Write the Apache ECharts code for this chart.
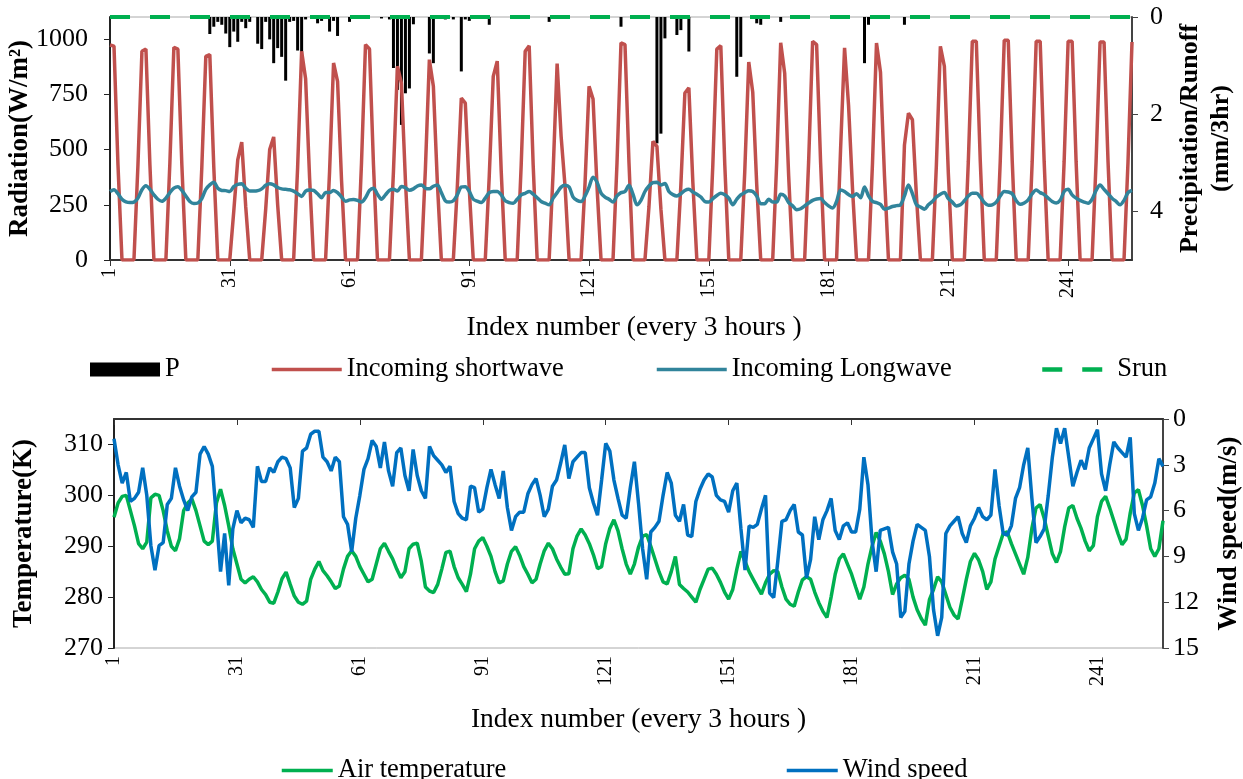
<!DOCTYPE html>
<html>
<head>
<meta charset="utf-8">
<script src="https://cdn.jsdelivr.net/npm/echarts@6/dist/echarts.min.js"></script>
<style>
html,body{margin:0;padding:0;background:#fff;}
#chart{width:1243px;height:779px;}
</style>
</head>
<body>
<div id="chart"></div>
<script>
// ---------- DATA ----------
const indexCount = 257;
const radiationTicks = [0, 250, 500, 750, 1000];
const precipTicks = [0, 2, 4];
const tempTicks = [270, 280, 290, 300, 310];
const windTicks = [0, 3, 6, 9, 12, 15];

const shortwave = [
973,968,430,0,0,0,0,430, 945,955,430,0,0,0,0,440, 963,955,430,0,0,0,0,420, 922,930,420,0,0,0,0,220,
453,534,240,0,0,0,0,230, 500,557,250,0,0,0,0,420, 945,820,370,0,0,0,0,400, 892,809,360,0,0,0,0,440,
975,955,430,0,0,0,0,400, 877,800,360,0,0,0,0,410, 907,786,350,0,0,0,0,330, 733,710,320,0,0,0,0,380,
831,900,400,0,0,0,0,430, 945,970,430,0,0,0,0,400, 889,560,330,0,0,0,0,350, 786,729,330,0,0,0,0,440,
983,975,440,0,0,0,0,240, 537,514,230,0,0,0,0,340, 756,779,350,0,0,0,0,430, 955,970,430,0,0,0,0,400,
896,760,340,0,0,0,0,440, 983,846,380,0,0,0,0,445, 990,975,440,0,0,0,0,500, 960,700,320,0,0,0,0,440,
982,850,380,0,0,0,0,520, 665,635,290,0,0,0,0,430, 967,877,390,0,0,0,0,445, 990,990,445,0,0,0,0,448,
995,995,448,0,0,0,0,445, 990,990,445,0,0,0,0,445, 990,990,445,0,0,0,0,444, 987,987,444,0,0,0,0,444,
987];

const longwave = [
310,318,300,275,263,260,262,280,318,336,320,295,275,266,280,305,325,332,315,290,
265,256,258,278,320,340,352,325,315,314,310,332,342,345,325,312,312,314,322,338,
345,340,328,322,320,318,312,300,288,312,317,315,300,282,305,305,315,305,285,266,
272,274,270,262,282,315,325,298,275,295,315,320,312,333,327,316,322,335,340,325,
322,334,340,305,268,262,268,295,330,332,310,275,266,260,280,305,310,310,295,268,
260,257,275,295,302,310,298,282,265,257,250,280,305,330,338,330,285,270,265,290,
330,375,352,303,285,275,262,290,305,310,338,298,250,270,310,335,350,352,340,346,
310,296,290,300,315,320,308,298,285,265,262,278,292,302,295,280,250,275,295,305,
313,310,290,255,255,275,262,262,298,290,260,245,228,232,245,258,270,276,278,260,
245,235,265,317,310,296,288,300,282,330,290,265,260,252,230,235,242,246,250,290,
340,300,250,240,230,250,265,285,298,305,278,262,245,250,268,290,302,302,285,260,
248,250,262,290,310,308,300,268,252,258,272,300,317,305,296,280,265,258,270,310,
320,295,280,270,262,257,275,315,340,320,300,280,265,250,270,305,315];

const precipitation = [
0,0,0,0,0,0,0,0,0,0, 0,0,0,0,0,0,0,0,0,0, 0,0,0,0,0,0.35,0.2,0.1,0.16,0.34,
0.62,0.3,0.51,0.1,0.23,0.1,0,0.55,0.66,0.1, 0.46,0.95,0.64,0.82,1.31,0.1,0.08,0.69,0.88,0.05,
0,0,0.13,0.08,0,0.3,0.08,0.39,0,0, 0.1,0,0,0,0,0,0,0,0.03,0,
0.05,1.05,1.5,2.22,1.57,1.47,0.15,0,0,0, 0.75,0.95,0,0,0.05,0,0.05,0,1.12,0.05,
0.08,0,0,0,0,0.16,0,0,0,0, 0,0,0,0,0,0,0,0,0,0,
0.1,0,0,0,0,0,0,0,0,0, 0,0,0,0,0,0,0,0,0.2,0,
0,0,0,0,0,0,0,2.6,2.4,0.44, 0,0,0.37,0.27,0,0.71,0,0,0,0,
0,0,0,0,0,0,0,1.23,0.82,0, 0,0,0.13,0.16,0,0,0,0,0.1,0,
0,0,0,0,0,0,0,0,0,0, 0,0,0,0,0,0,0,0,0,0.95,
0.16,0,0,0,0,0,0,0,0,0.16, 0,0,0,0,0,0,0,0,0,0,
0,0,0,0,0,0,0,0,0,0, 0,0,0,0,0,0,0,0,0,0,
0,0,0,0,0,0,0,0,0,0, 0,0,0,0,0,0,0,0,0,0,
0,0,0,0,0,0,0];

const srun = [
0,0,0,0,0,0,0,0,0,0,0,0,0,0,0,0,0,0,0,0,0,0,0,0,0,0,0,0,0,0,0,0,0,0,0,0,0,0,0,0,
0,0,0,0,0,0,0,0,0,0,0,0,0,0,0,0,0,0,0,0,0,0,0,0,0,0,0,0,0,0,0,0,0,0,0,0,0,0,0,0,
0,0,0,0,0,0,0,0,0,0,0,0,0,0,0,0,0,0,0,0,0,0,0,0,0,0,0,0,0,0,0,0,0,0,0,0,0,0,0,0,
0,0,0,0,0,0,0,0,0,0,0,0,0,0,0,0,0,0,0,0,0,0,0,0,0,0,0,0,0,0,0,0,0,0,0,0,0,0,0,0,
0,0,0,0,0,0,0,0,0,0,0,0,0,0,0,0,0,0,0,0,0,0,0,0,0,0,0,0,0,0,0,0,0,0,0,0,0,0,0,0,
0,0,0,0,0,0,0,0,0,0,0,0,0,0,0,0,0,0,0,0,0,0,0,0,0,0,0,0,0,0,0,0,0,0,0,0,0,0,0,0,
0,0,0,0,0,0,0,0,0,0,0,0,0,0,0,0,0];

const airTemperature = [
295.7,298.5,299.8,300.0,297,294,290.5,289.5,290.8,299.5,300.2,300.0,297,293,290,289.1,291.5,297,298.5,299.3,
297,294,291,290.3,291,298.5,301.2,298,294,289.5,286.5,283.5,282.8,283.5,284,283,281.5,280.5,279,278.8,
281,283.6,284.9,282.5,280.2,279,278.6,279.2,283.5,285.5,287,285.2,284.2,283,281.7,282.2,285.5,288,289.1,288,
286,284.5,283,283.5,286.5,289.5,290.6,289,287.5,285.5,283.8,285,289.5,290.4,290.6,287,282,281.2,280.9,282.5,
285.5,288.8,289,286,283.8,282.5,281.1,284.5,289.5,291,291.7,290,288,285,282.8,283.2,286.5,289,289.9,288.2,
286,284.5,282.8,283.5,286.5,289.1,290.6,289.5,287.5,285.9,284.5,284.6,289.5,292,293.4,292.2,290.5,288.3,285.6,286,
290.5,293.5,295.2,293,289.5,286.5,284.5,286.5,289.8,292,292.3,290,287.5,285,283,282.6,285,288,282.5,281.7,
281,280,279,281.5,283.5,285.5,285.7,284.5,282.9,281,279.6,281.5,285.5,289,287,285,283.5,282,280.6,282.8,
284.5,285.2,285,282,279.6,278.6,278.2,281,283.4,284,283.5,281,278.9,277.2,276,280,284.5,287.5,288.5,286.5,
284.5,282,279.6,282,286.5,290,292.7,291,288.5,285,280.5,282.6,283.8,284.3,283.5,280,277.5,275.8,274.5,279.5,
281.5,284,283,280.5,278,276.5,275.7,279.5,283.5,287,288.6,287.3,285,281.5,283,287.5,290,292.5,292.8,290.5,
288.5,286.5,284.5,287.8,293.5,297.5,298.2,295.5,292,288.5,286.8,289,293.8,297.5,298,295.5,293.5,291,289.1,290.1,
295.8,298.8,299.8,297.5,295,292.5,290.3,291.4,296.5,300.5,301.1,298,294,289.5,288,289.5,295];

const windSpeed = [
1.3,3.0,4.2,3.5,5.4,5.2,4.8,3.2,5.0,8.3,9.9,8.3,8.1,5.6,5.2,3.2,4.4,5.3,6.0,5.1,
4.8,2.3,1.8,2.3,3.1,6.5,10.0,7.5,10.9,7.2,6.0,6.8,6.5,6.6,7.1,3.1,4.1,4.1,3.2,3.5,
2.8,2.5,2.6,3.2,5.8,5.2,2.1,1.9,1.0,0.8,0.8,2.5,2.8,3.4,2.5,2.8,6.4,6.9,8.7,6.5,
5.0,3.3,2.6,1.4,1.8,3.2,1.5,3.4,4.4,2.2,1.9,3.7,4.7,2.0,3.7,4.7,5.2,1.8,2.4,2.7,
3.0,3.5,3.1,5.4,6.2,6.5,6.6,4.4,4.5,6.1,5.9,4.5,3.3,4.3,5.2,3.4,5.8,7.3,6.4,6.1,
6.1,4.9,4.3,3.9,5.0,6.4,5.9,4.4,4.0,2.9,1.7,3.9,2.8,2.5,2.2,2.2,4.5,5.5,6.3,4.0,
1.6,2.1,4.0,5.2,6.3,6.5,4.5,2.8,5.5,8.5,10.5,7.4,7.1,6.7,5.0,3.5,4.2,6.3,6.7,5.6,
7.6,7.7,5.4,4.6,4.0,3.6,3.8,5.0,5.3,5.4,6.1,4.7,4.2,7.2,9.9,7.0,7.1,6.9,5.9,5.0,
11.4,11.7,9.3,6.7,6.6,6.0,5.6,7.4,7.6,10.4,9.2,6.4,7.9,6.6,6.0,5.2,7.3,7.9,7.0,6.8,
7.4,7.4,5.9,2.5,4.3,8.0,10.0,7.3,7.2,7.1,8.7,9.5,13.0,12.6,9.5,8.0,6.9,7.1,7.3,9.0,
12.5,14.2,13.0,7.5,7.0,6.7,6.4,7.5,8.1,7.0,6.5,5.8,6.4,6.6,6.3,3.3,5.7,7.5,7.6,7.0,
5.2,4.5,3.0,1.9,5.2,8.1,7.7,7.2,5.0,2.5,0.6,1.6,0.6,2.5,4.4,3.5,2.7,3.3,1.9,1.3,
0.7,3.6,4.7,3.0,1.5,1.9,2.2,2.5,1.2,6.2,7.3,6.5,5.3,5.1,4.2,2.6,3.1];

const categories = [];
for (let i = 1; i <= indexCount; i++) categories.push(String(i));

// ---------- CHART ----------
const FONT = '"Liberation Serif", "Times New Roman", serif';
const chart = echarts.init(document.getElementById('chart'), null, {renderer: 'canvas'});

function xAxisCfg(gridIndex, gap, pad) {
  return {
    type: 'category', gridIndex, data: categories, boundaryGap: false,
    name: 'Index number (every 3 hours )', nameLocation: 'middle', nameGap: gap,
    nameTextStyle: {fontFamily: FONT, fontSize: 27.5, color: '#000', padding: pad},
    axisLine: {lineStyle: {color: '#333', width: 2}},
    axisTick: {interval: 29, length: 6, lineStyle: {color: '#333'}},
    axisLabel: {interval: 29, rotate: 90, fontFamily: FONT, fontSize: 20, color: '#000', margin: 8},
    splitLine: {show: false}
  };
}
function legendCfg(name, left, top, w, extra) {
  return Object.assign({
    data: [name], left, top, padding: 0, itemWidth: w, itemHeight: 14,
    itemStyle: {opacity: 0},
    lineStyle: {width: 3.5},
    textStyle: {fontFamily: FONT, fontSize: 26.5, color: '#000'}
  }, extra || {});
}

const option = {
  animation: false,
  backgroundColor: '#fff',
  grid: [
    {left: 110, top: 17, width: 1022, height: 243, show: true, borderColor: '#aaa', borderWidth: 1,
     outerBoundsMode: 'none', containLabel: false},
    {left: 114, top: 419, width: 1049, height: 229, show: true, borderColor: '#aaa', borderWidth: 1,
     outerBoundsMode: 'none', containLabel: false}
  ],
  legend: [
    legendCfg('P', 90, 356, 70, {icon: 'rect', itemStyle: {color: '#000'}}),
    legendCfg('Incoming shortwave', 270, 356, 70),
    legendCfg('Incoming Longwave', 655, 356, 70),
    legendCfg('Srun', 1040, 356, 70, {lineStyle: {width: 4.5}}),
    legendCfg('Air temperature', 280, 757, 51),
    legendCfg('Wind speed', 785, 757, 51)
  ],
  xAxis: [xAxisCfg(0, 54, [0, 0, 0, 26]), xAxisCfg(1, 58, 0)],
  yAxis: [
    {type: 'value', gridIndex: 0, min: 0, max: 1100,
     name: 'Radiation(W/m²)', nameLocation: 'middle', nameGap: 76, nameRotate: 90, nameMoveOverlap: false,
     nameTextStyle: {fontFamily: FONT, fontSize: 27, fontWeight: 'bold', color: '#000'},
     axisLine: {show: true, lineStyle: {color: '#222', width: 2}},
     axisTick: {show: true, length: 6, customValues: radiationTicks, lineStyle: {color: '#222'}},
     axisLabel: {customValues: radiationTicks, formatter: v => String(v), fontFamily: FONT, fontSize: 26, color: '#000', margin: 22},
     splitLine: {show: false}},
    {type: 'value', gridIndex: 0, min: 0, max: 5, inverse: true, position: 'right',
     name: 'Precipitation/Runoff\n(mm/3hr)', nameLocation: 'middle', nameGap: 43, nameRotate: 90,
     nameTextStyle: {fontFamily: FONT, fontSize: 26, fontWeight: 'bold', color: '#000', lineHeight: 31},
     axisLine: {show: true, lineStyle: {color: '#444', width: 2}},
     axisTick: {show: true, length: 6, customValues: precipTicks, lineStyle: {color: '#444'}},
     axisLabel: {customValues: precipTicks, fontFamily: FONT, fontSize: 26, color: '#000', margin: 18},
     splitLine: {show: false}},
    {type: 'value', gridIndex: 1, min: 270, max: 315,
     name: 'Temperature(K)', nameLocation: 'middle', nameGap: 76, nameRotate: 90,
     nameTextStyle: {fontFamily: FONT, fontSize: 27, fontWeight: 'bold', color: '#000'},
     axisLine: {show: true, lineStyle: {color: '#222', width: 2}},
     axisTick: {show: true, length: 6, customValues: tempTicks, lineStyle: {color: '#222'}},
     axisLabel: {customValues: tempTicks, fontFamily: FONT, fontSize: 26, color: '#000', margin: 11},
     splitLine: {show: false}},
    {type: 'value', gridIndex: 1, min: 0, max: 15, inverse: true, position: 'right',
     name: 'Wind speed(m/s)', nameLocation: 'middle', nameGap: 53, nameRotate: 90,
     nameTextStyle: {fontFamily: FONT, fontSize: 27, fontWeight: 'bold', color: '#000'},
     axisLine: {show: true, lineStyle: {color: '#444', width: 2}},
     axisTick: {show: true, length: 6, customValues: windTicks, lineStyle: {color: '#444'}},
     axisLabel: {customValues: windTicks, fontFamily: FONT, fontSize: 26, color: '#000', margin: 10},
     splitLine: {show: false}}
  ],
  series: [
    {name: 'P', type: 'bar', xAxisIndex: 0, yAxisIndex: 1, data: precipitation,
     barWidth: 3, itemStyle: {color: '#000'}, z: 2},
    {name: 'Incoming shortwave', type: 'line', xAxisIndex: 0, yAxisIndex: 0, data: shortwave,
     symbol: 'none', lineStyle: {color: '#C0504D', width: 3.5}, itemStyle: {color: '#C0504D'}, z: 3},
    {name: 'Incoming Longwave', type: 'line', xAxisIndex: 0, yAxisIndex: 0, data: longwave,
     symbol: 'none', smooth: 0.3, lineStyle: {color: '#31849B', width: 3.5}, itemStyle: {color: '#31849B'}, z: 4},
    {name: 'Srun', type: 'line', xAxisIndex: 0, yAxisIndex: 1, data: srun, clip: false,
     symbol: 'none', lineStyle: {color: '#00B050', width: 4, type: [20, 20]}, itemStyle: {color: '#00B050'}, z: 5},
    {name: 'Air temperature', type: 'line', xAxisIndex: 1, yAxisIndex: 2, data: airTemperature,
     symbol: 'none', lineStyle: {color: '#00B050', width: 3.5}, itemStyle: {color: '#00B050'}, z: 3},
    {name: 'Wind speed', type: 'line', xAxisIndex: 1, yAxisIndex: 3, data: windSpeed,
     symbol: 'none', lineStyle: {color: '#0070C0', width: 3.5}, itemStyle: {color: '#0070C0'}, z: 4}
  ]
};
chart.setOption(option);
</script>
</body>
</html>
